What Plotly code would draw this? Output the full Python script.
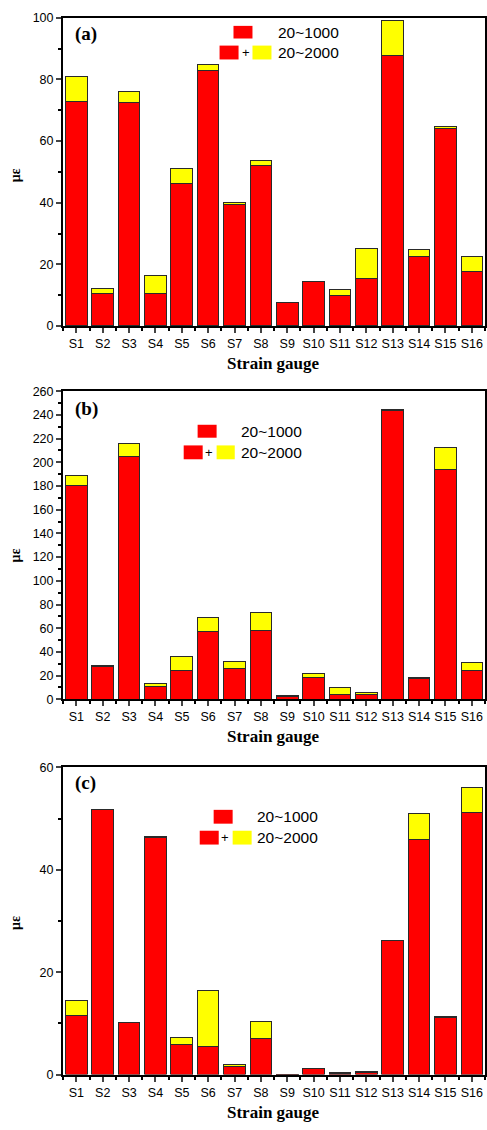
import plotly.graph_objects as go
from plotly.subplots import make_subplots

gauges = [f"S{i}" for i in range(1, 17)]
xpos = list(range(1, 17))

# panel (a)
a_red = [72.7, 10.6, 72.4, 10.6, 46.4, 83.0, 39.3, 52.1, 7.5, 14.3, 10.0, 15.3, 87.8, 22.6, 64.0, 17.8]
a_total = [81.0, 12.2, 76.2, 16.4, 51.2, 84.8, 40.0, 53.8, 7.7, 14.6, 12.0, 25.2, 99.0, 24.7, 64.8, 22.5]
# panel (b)
b_red = [180.4, 27.5, 204.9, 10.6, 23.9, 57.0, 25.6, 57.8, 2.2, 18.3, 4.2, 3.9, 243.5, 17.5, 194.1, 24.5]
b_total = [189.1, 28.6, 216.0, 13.1, 36.1, 69.0, 32.0, 73.4, 3.1, 21.7, 10.0, 5.8, 244.3, 18.3, 212.7, 31.1]
# panel (c)
c_red = [11.5, 51.8, 10.2, 46.3, 5.9, 5.5, 1.5, 7.0, 0.05, 1.1, 0.3, 0.5, 26.2, 45.9, 11.2, 51.3]
c_total = [14.5, 51.8, 10.2, 46.5, 7.3, 16.5, 1.9, 10.4, 0.1, 1.2, 0.4, 0.7, 26.2, 51.0, 11.4, 56.0]

panels = [
    ("(a)", a_red, a_total, 100, [0, 20, 40, 60, 80, 100]),
    ("(b)", b_red, b_total, 260, list(range(0, 261, 20))),
    ("(c)", c_red, c_total, 60, [0, 20, 40, 60]),
]

W, H = 487, 1130
L = 63
# pixel extents of plot areas (top, bottom)
areas = [(11, 323), (389, 701), (770, 1081)]

fig = make_subplots(rows=3, cols=1)

TICKFONT = dict(family="Arial, Liberation Sans, sans-serif", size=12.5, color="black")
SERIF = "Times New Roman, Liberation Serif, serif"

for i, (lab, red, tot, ymax, yt) in enumerate(panels):
    r = i + 1
    yellow = [t - rr for t, rr in zip(tot, red)]
    fig.add_trace(go.Bar(x=xpos, y=red, marker=dict(color="#FF0000", line=dict(color="#2a2a2a", width=1)),
                         width=0.82, showlegend=False), row=r, col=1)
    fig.add_trace(go.Bar(x=xpos, y=yellow, marker=dict(color="#FFFF00", line=dict(color="#2a2a2a", width=1)),
                         width=0.82, showlegend=False), row=r, col=1)
    top, bot = areas[i]
    dom = [1 - bot / H, 1 - top / H]
    ax = "" if r == 1 else str(r)
    fig.update_layout(**{
        f"yaxis{ax}": dict(
            domain=dom, range=[0, ymax], tickvals=yt, ticks="outside", ticklen=5, tickwidth=1.5,
            showline=True, linecolor="black", linewidth=2, mirror=True, showgrid=False, zeroline=False,
            tickfont=TICKFONT,
            minor=dict(dtick=10, tick0=0, ticks="outside", ticklen=3, tickwidth=1.5, tickcolor="black", showgrid=False),
        ),
        f"xaxis{ax}": dict(
            domain=[0, 1], range=[0.494, 16.5], tickmode="array", tickvals=xpos, ticktext=gauges,
            ticks="outside", ticklen=5, tickwidth=1.5, showline=True, linecolor="black", linewidth=2,
            mirror=True, showgrid=False, zeroline=False, tickfont=TICKFONT,
            minor=dict(tickmode="array", tickvals=[k + 0.5 for k in range(0, 17)], ticks="outside",
                       ticklen=3, tickwidth=1.5, tickcolor="black", showgrid=False),
        ),
    })

    xd = f"x{ax} domain"
    yd = f"y{ax} domain"
    # panel label
    fig.add_annotation(x=0.024, y=[0.949, 0.942, 0.949][i], xref=xd, yref=yd, text=f"<b>{lab}</b>",
                       showarrow=False, xanchor="left", yanchor="middle",
                       font=dict(family=SERIF, size=19, color="black"))
    # y title
    fig.add_annotation(x=-0.113, y=[0.49, 0.468, 0.495][i], xref=xd, yref=yd, text="<b>με</b>",
                       showarrow=False, textangle=-90, xanchor="center", yanchor="middle",
                       font=dict(family=SERIF, size=14, color="black"))
    # x title
    fig.add_annotation(x=0.499, y=-0.122, xref=xd, yref=yd, text="<b>Strain gauge</b>",
                       showarrow=False, xanchor="center", yanchor="middle",
                       font=dict(family=SERIF, size=17, color="black"))

    # legend (custom)
    leg = [
        dict(r1=(0.404, 0.449), y1=(0.933, 0.974), t1=(0.504, 0.952),
             r2=(0.371, 0.416), plus=0.433, yl=(0.449, 0.494), y2=(0.865, 0.910), t2=(0.504, 0.888)),
        dict(r1=(0.319, 0.364), y1=(0.849, 0.891), t1=(0.416, 0.870),
             r2=(0.286, 0.331), plus=0.345, yl=(0.364, 0.407), y2=(0.779, 0.824), t2=(0.416, 0.801)),
        dict(r1=(0.357, 0.402), y1=(0.817, 0.862), t1=(0.456, 0.839),
             r2=(0.324, 0.369), plus=0.385, yl=(0.402, 0.447), y2=(0.749, 0.794), t2=(0.456, 0.772)),
    ][i]
    for (xx, yy, col) in [(leg["r1"], leg["y1"], "#FF0000"), (leg["r2"], leg["y2"], "#FF0000"),
                          (leg["yl"], leg["y2"], "#FFFF00")]:
        fig.add_shape(type="rect", xref=xd, yref=yd, x0=xx[0], x1=xx[1], y0=yy[0], y1=yy[1],
                      fillcolor=col, line=dict(width=0))
    fig.add_annotation(x=leg["plus"], y=sum(leg["y2"]) / 2, xref=xd, yref=yd, text="+", showarrow=False,
                       xanchor="center", yanchor="middle",
                       font=dict(family="Arial, Liberation Sans, sans-serif", size=13, color="black"))
    fig.add_annotation(x=leg["t1"][0], y=leg["t1"][1], xref=xd, yref=yd, text="20~1000", showarrow=False,
                       xanchor="left", yanchor="middle",
                       font=dict(family="Arial, Liberation Sans, sans-serif", size=15.5, color="black"))
    fig.add_annotation(x=leg["t2"][0], y=leg["t2"][1], xref=xd, yref=yd, text="20~2000", showarrow=False,
                       xanchor="left", yanchor="middle",
                       font=dict(family="Arial, Liberation Sans, sans-serif", size=15.5, color="black"))

fig.update_layout(
    width=W, height=H, barmode="stack", bargap=0.18,
    margin=dict(l=L, r=0, t=0, b=0),
    plot_bgcolor="white", paper_bgcolor="white",
    showlegend=False,
)

fig.write_html("out.html")
